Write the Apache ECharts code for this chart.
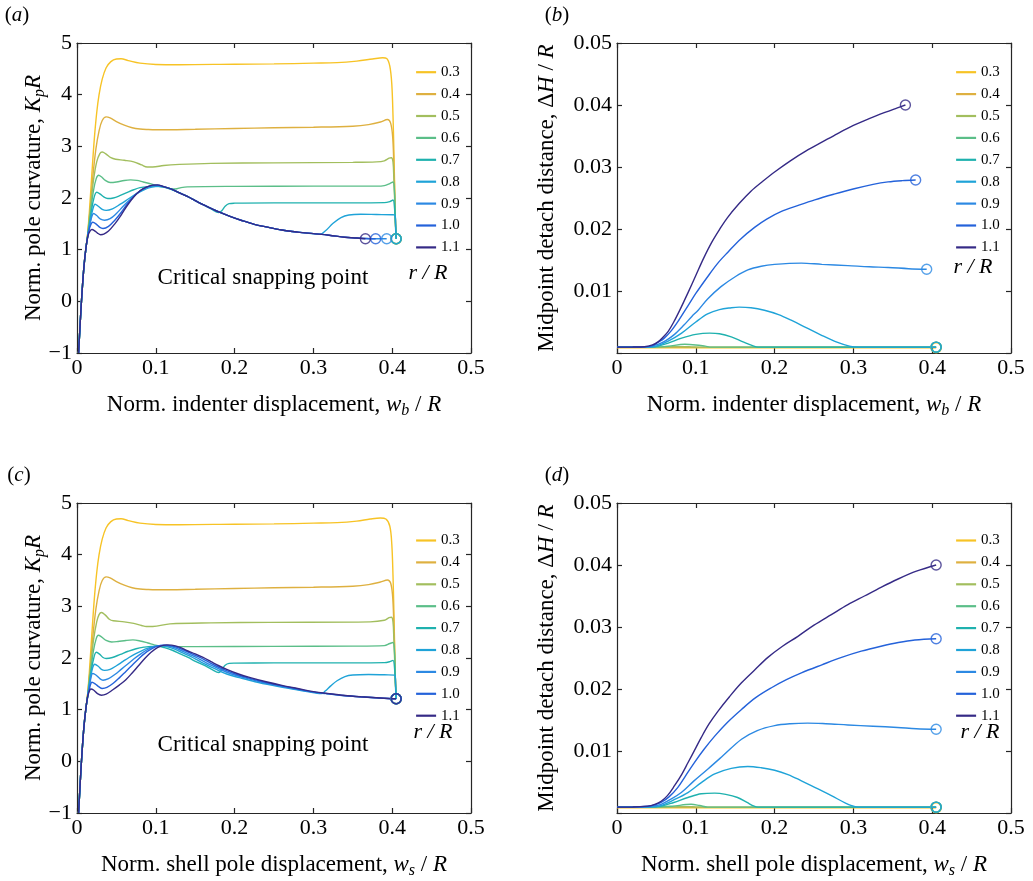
<!DOCTYPE html>
<html><head><meta charset="utf-8">
<script src="https://cdn.jsdelivr.net/npm/echarts@6/dist/echarts.min.js"></script>
<style>html,body{margin:0;padding:0;background:#fff}#c{width:1033px;height:881px}</style>
</head><body><div id="c"></div>
<script>
// ---------- categories / tick labels ----------
const radii = ['0.3','0.4','0.5','0.6','0.7','0.8','0.9','1.0','1.1'];
const xTicks = [0, 0.1, 0.2, 0.3, 0.4, 0.5];
const kTicks = [-1, 0, 1, 2, 3, 4, 5];
const hTicks = [0, 0.01, 0.02, 0.03, 0.04, 0.05];

// ---------- panel (a): K_p R vs w_b / R ----------
const kA03 = [[0.002,-1],[0.0045,-0.3],[0.0065,0.2],[0.009,0.7],[0.0115,1.05],[0.0135,1.3],[0.016,1.8],[0.019,2.5],[0.022,3.15],[0.025,3.65],[0.028,4.0],[0.032,4.3],[0.037,4.52],[0.043,4.64],[0.05,4.69],[0.056,4.695],[0.065,4.66],[0.08,4.61],[0.1,4.585],[0.13,4.58],[0.2,4.59],[0.25,4.595],[0.3,4.61],[0.33,4.62],[0.355,4.65],[0.375,4.69],[0.388,4.715],[0.393,4.7],[0.397,4.55],[0.3995,4.2],[0.401,3.6],[0.402,3.0],[0.403,2.3],[0.404,1.6],[0.405,1.21]];
const kA04 = [[0.002,-1],[0.0045,-0.3],[0.0065,0.2],[0.009,0.7],[0.0115,1.05],[0.0135,1.3],[0.017,1.85],[0.02,2.4],[0.024,2.95],[0.028,3.3],[0.032,3.5],[0.037,3.57],[0.042,3.55],[0.05,3.48],[0.06,3.41],[0.07,3.36],[0.08,3.335],[0.09,3.325],[0.1,3.32],[0.15,3.33],[0.2,3.345],[0.25,3.36],[0.3,3.37],[0.35,3.39],[0.37,3.42],[0.385,3.47],[0.394,3.52],[0.398,3.45],[0.4005,3.2],[0.402,2.7],[0.403,2.2],[0.404,1.6],[0.405,1.21]];
const kA05 = [[0.002,-1],[0.0045,-0.3],[0.0065,0.2],[0.009,0.7],[0.0115,1.05],[0.0135,1.28],[0.017,1.8],[0.021,2.35],[0.025,2.7],[0.029,2.86],[0.032,2.89],[0.037,2.85],[0.043,2.78],[0.049,2.75],[0.06,2.73],[0.072,2.7],[0.082,2.64],[0.089,2.6],[0.096,2.6],[0.11,2.63],[0.13,2.65],[0.17,2.67],[0.25,2.68],[0.35,2.69],[0.38,2.7],[0.39,2.72],[0.396,2.77],[0.399,2.78],[0.401,2.7],[0.402,2.4],[0.403,2.0],[0.404,1.6],[0.405,1.21]];
const kA06 = [[0.002,-1],[0.0045,-0.3],[0.0065,0.2],[0.009,0.7],[0.0115,1.05],[0.0135,1.27],[0.017,1.7],[0.021,2.15],[0.0245,2.38],[0.0275,2.44],[0.031,2.41],[0.036,2.34],[0.042,2.3],[0.05,2.31],[0.06,2.34],[0.068,2.35],[0.076,2.34],[0.084,2.31],[0.092,2.28],[0.1,2.25],[0.108,2.22],[0.116,2.19],[0.122,2.175],[0.127,2.18],[0.132,2.2],[0.14,2.215],[0.2,2.225],[0.3,2.23],[0.38,2.23],[0.39,2.24],[0.397,2.28],[0.401,2.31],[0.403,2.1],[0.404,1.6],[0.405,1.21]];
const kA07 = [[0.002,-1],[0.0045,-0.3],[0.0065,0.2],[0.009,0.7],[0.0115,1.05],[0.0135,1.26],[0.017,1.62],[0.021,1.97],[0.025,2.11],[0.029,2.08],[0.034,2.02],[0.039,1.99],[0.046,2.0],[0.055,2.05],[0.064,2.11],[0.072,2.16],[0.08,2.2],[0.09,2.22],[0.1,2.225],[0.11,2.21],[0.12,2.165],[0.13,2.1],[0.14,2.03],[0.15,1.95],[0.16,1.87],[0.17,1.79],[0.18,1.72],[0.184,1.76],[0.188,1.84],[0.193,1.89],[0.2,1.9],[0.25,1.905],[0.3,1.905],[0.35,1.905],[0.39,1.91],[0.397,1.93],[0.401,1.96],[0.403,1.8],[0.404,1.5],[0.405,1.21]];
const kA08 = [[0.002,-1],[0.0045,-0.3],[0.0065,0.2],[0.009,0.7],[0.0115,1.05],[0.0135,1.25],[0.017,1.55],[0.02,1.78],[0.023,1.88],[0.027,1.84],[0.032,1.78],[0.037,1.76],[0.045,1.79],[0.055,1.88],[0.065,1.98],[0.075,2.08],[0.085,2.16],[0.095,2.21],[0.103,2.225],[0.11,2.215],[0.12,2.17],[0.13,2.1],[0.14,2.03],[0.15,1.95],[0.16,1.87],[0.17,1.8],[0.18,1.73],[0.195,1.64],[0.21,1.56],[0.225,1.49],[0.24,1.44],[0.26,1.38],[0.28,1.34],[0.3,1.31],[0.3085,1.3],[0.315,1.36],[0.325,1.51],[0.335,1.62],[0.345,1.67],[0.36,1.685],[0.38,1.68],[0.4,1.675],[0.4035,1.67],[0.4045,1.45],[0.405,1.21]];
const kA09 = [[0.002,-1],[0.0045,-0.3],[0.0065,0.2],[0.009,0.7],[0.0115,1.05],[0.0135,1.25],[0.0165,1.5],[0.019,1.65],[0.021,1.7],[0.025,1.66],[0.03,1.59],[0.035,1.57],[0.042,1.6],[0.05,1.7],[0.058,1.83],[0.066,1.95],[0.074,2.06],[0.082,2.15],[0.09,2.21],[0.098,2.24],[0.104,2.24],[0.11,2.22],[0.12,2.17],[0.13,2.1],[0.14,2.03],[0.15,1.95],[0.16,1.87],[0.17,1.8],[0.18,1.73],[0.195,1.64],[0.21,1.56],[0.225,1.49],[0.24,1.44],[0.26,1.38],[0.28,1.34],[0.3,1.31],[0.32,1.28],[0.34,1.24],[0.355,1.225],[0.366,1.215],[0.38,1.21],[0.393,1.21]];
const kA10 = [[0.002,-1],[0.0045,-0.3],[0.0065,0.2],[0.009,0.7],[0.0115,1.05],[0.0135,1.25],[0.016,1.42],[0.02,1.53],[0.024,1.5],[0.029,1.43],[0.033,1.41],[0.04,1.45],[0.048,1.57],[0.056,1.72],[0.064,1.89],[0.072,2.03],[0.08,2.14],[0.088,2.21],[0.096,2.245],[0.102,2.25],[0.11,2.22],[0.12,2.17],[0.13,2.1],[0.14,2.03],[0.15,1.95],[0.16,1.87],[0.17,1.8],[0.18,1.73],[0.195,1.64],[0.21,1.56],[0.225,1.49],[0.24,1.44],[0.26,1.38],[0.28,1.34],[0.3,1.31],[0.32,1.28],[0.34,1.24],[0.355,1.225],[0.366,1.215],[0.379,1.21]];
const kA11 = [[0.002,-1],[0.0045,-0.3],[0.0065,0.2],[0.009,0.7],[0.0115,1.05],[0.014,1.27],[0.0165,1.36],[0.019,1.39],[0.022,1.37],[0.026,1.32],[0.03,1.29],[0.034,1.3],[0.04,1.36],[0.048,1.5],[0.056,1.67],[0.064,1.86],[0.072,2.02],[0.08,2.14],[0.088,2.21],[0.096,2.25],[0.102,2.255],[0.11,2.22],[0.12,2.17],[0.13,2.1],[0.14,2.03],[0.15,1.95],[0.16,1.87],[0.17,1.8],[0.18,1.73],[0.195,1.64],[0.21,1.56],[0.225,1.49],[0.24,1.44],[0.26,1.38],[0.28,1.34],[0.3,1.31],[0.32,1.28],[0.34,1.24],[0.355,1.225],[0.366,1.21]];

// ---------- panel (b): dH / R vs w_b / R ----------
const hB03 = [[0,0.00085],[0.1,0.00085],[0.2,0.00085],[0.3,0.00085],[0.405,0.00085]];
const hB04 = [[0,0.0009],[0.1,0.0009],[0.2,0.0009],[0.3,0.0009],[0.405,0.0009]];
const hB05 = [[0,0.00095],[0.05,0.00095],[0.065,0.00098],[0.08,0.00103],[0.095,0.00099],[0.105,0.00095],[0.2,0.00095],[0.405,0.00095]];
const hB06 = [[0,0.00095],[0.05,0.00096],[0.065,0.0011],[0.086,0.0014],[0.1,0.0013],[0.112,0.0011],[0.12,0.00095],[0.2,0.00095],[0.405,0.00095]];
const hB07 = [[0,0.00095],[0.04,0.00096],[0.052,0.0011],[0.065,0.0016],[0.082,0.0024],[0.1,0.003],[0.1175,0.0032],[0.13,0.0031],[0.145,0.0026],[0.16,0.0018],[0.172,0.0012],[0.179,0.00095],[0.25,0.00095],[0.405,0.00095]];
const hB08 = [[0,0.00095],[0.03,0.00096],[0.045,0.001],[0.052,0.0012],[0.065,0.0019],[0.082,0.0032],[0.1,0.005],[0.115,0.0063],[0.13,0.007],[0.145,0.0073],[0.155,0.0074],[0.17,0.0073],[0.187,0.0069],[0.205,0.0062],[0.221,0.0053],[0.24,0.0041],[0.259,0.0029],[0.28,0.0017],[0.295,0.0011],[0.306,0.00095],[0.35,0.00095],[0.405,0.00095]];
const hB09 = [[0,0.00095],[0.02,0.00096],[0.04,0.001],[0.052,0.0014],[0.062,0.002],[0.073,0.003],[0.085,0.0045],[0.095,0.0059],[0.103,0.0069],[0.115,0.0087],[0.132,0.0107],[0.15,0.0123],[0.166,0.0134],[0.183,0.014],[0.2,0.0143],[0.234,0.0145],[0.26,0.0143],[0.293,0.0141],[0.32,0.0139],[0.344,0.0138],[0.37,0.0136],[0.393,0.0135]];
const hB10 = [[0,0.00095],[0.02,0.00096],[0.035,0.001],[0.045,0.0012],[0.052,0.0017],[0.06,0.0024],[0.069,0.0036],[0.078,0.0052],[0.09,0.0076],[0.1,0.0096],[0.115,0.0123],[0.128,0.0145],[0.141,0.0163],[0.157,0.0184],[0.175,0.0203],[0.19,0.0216],[0.208,0.0228],[0.23,0.0238],[0.251,0.0247],[0.275,0.0256],[0.301,0.0265],[0.325,0.0272],[0.344,0.0276],[0.362,0.0278],[0.379,0.0279]];
const hB11 = [[0,0.00095],[0.02,0.00096],[0.035,0.001],[0.045,0.0013],[0.052,0.0018],[0.058,0.0025],[0.065,0.0035],[0.072,0.005],[0.08,0.007],[0.09,0.0097],[0.1,0.0125],[0.11,0.0153],[0.12,0.0178],[0.13,0.0199],[0.14,0.0218],[0.155,0.0241],[0.17,0.0261],[0.185,0.0277],[0.2,0.0292],[0.22,0.031],[0.24,0.0326],[0.26,0.034],[0.28,0.0354],[0.3,0.0367],[0.32,0.0378],[0.34,0.0388],[0.355,0.0395],[0.366,0.04]];

// ---------- panel (c): K_p R vs w_s / R ----------
const kC03 = [[0.002,-1],[0.0045,-0.3],[0.0065,0.2],[0.009,0.7],[0.0115,1.05],[0.0135,1.3],[0.016,1.8],[0.019,2.5],[0.022,3.15],[0.025,3.65],[0.028,4.0],[0.032,4.3],[0.037,4.52],[0.043,4.64],[0.05,4.69],[0.056,4.695],[0.065,4.66],[0.08,4.61],[0.1,4.585],[0.13,4.58],[0.2,4.59],[0.25,4.595],[0.3,4.61],[0.33,4.62],[0.355,4.65],[0.372,4.69],[0.385,4.71],[0.392,4.69],[0.397,4.55],[0.3995,4.2],[0.401,3.6],[0.402,3.0],[0.403,2.3],[0.404,1.6],[0.405,1.21]];
const kC04 = [[0.002,-1],[0.0045,-0.3],[0.0065,0.2],[0.009,0.7],[0.0115,1.05],[0.0135,1.3],[0.017,1.85],[0.02,2.4],[0.024,2.95],[0.028,3.3],[0.032,3.5],[0.037,3.57],[0.042,3.55],[0.05,3.48],[0.06,3.41],[0.07,3.36],[0.08,3.335],[0.09,3.325],[0.1,3.32],[0.15,3.33],[0.2,3.345],[0.25,3.36],[0.3,3.37],[0.35,3.39],[0.37,3.42],[0.385,3.47],[0.394,3.51],[0.398,3.45],[0.4005,3.2],[0.402,2.7],[0.403,2.2],[0.404,1.6],[0.405,1.21]];
const kC05 = [[0.002,-1],[0.0045,-0.3],[0.0065,0.2],[0.009,0.7],[0.0115,1.05],[0.0135,1.28],[0.017,1.8],[0.021,2.35],[0.025,2.7],[0.028,2.84],[0.031,2.88],[0.036,2.83],[0.041,2.75],[0.046,2.72],[0.06,2.7],[0.072,2.67],[0.082,2.63],[0.088,2.61],[0.096,2.61],[0.118,2.66],[0.17,2.68],[0.245,2.69],[0.372,2.7],[0.39,2.73],[0.396,2.78],[0.399,2.79],[0.401,2.7],[0.402,2.4],[0.403,2.0],[0.404,1.6],[0.405,1.21]];
const kC06 = [[0.002,-1],[0.0045,-0.3],[0.0065,0.2],[0.009,0.7],[0.0115,1.05],[0.0135,1.27],[0.017,1.7],[0.021,2.15],[0.0245,2.38],[0.027,2.44],[0.031,2.41],[0.037,2.34],[0.044,2.31],[0.052,2.32],[0.062,2.34],[0.071,2.35],[0.08,2.33],[0.09,2.29],[0.098,2.255],[0.105,2.23],[0.115,2.22],[0.15,2.22],[0.25,2.225],[0.35,2.23],[0.39,2.24],[0.397,2.28],[0.401,2.3],[0.403,2.1],[0.404,1.6],[0.405,1.21]];
const kC07 = [[0.002,-1],[0.0045,-0.3],[0.0065,0.2],[0.009,0.7],[0.0115,1.05],[0.0135,1.25],[0.017,1.65],[0.021,1.98],[0.0245,2.11],[0.029,2.07],[0.033,2.01],[0.037,1.99],[0.045,2.01],[0.055,2.07],[0.065,2.13],[0.075,2.18],[0.085,2.21],[0.095,2.225],[0.103,2.225],[0.111,2.2],[0.121,2.15],[0.131,2.08],[0.141,2.01],[0.151,1.93],[0.161,1.86],[0.171,1.78],[0.18,1.72],[0.184,1.78],[0.188,1.86],[0.193,1.895],[0.2,1.9],[0.25,1.905],[0.3,1.905],[0.35,1.905],[0.39,1.91],[0.397,1.93],[0.401,1.955],[0.403,1.8],[0.404,1.5],[0.405,1.21]];
const kC08 = [[0.002,-1],[0.0045,-0.3],[0.0065,0.2],[0.009,0.7],[0.0115,1.05],[0.0135,1.25],[0.017,1.6],[0.02,1.82],[0.0225,1.88],[0.027,1.84],[0.031,1.78],[0.035,1.76],[0.042,1.78],[0.05,1.85],[0.058,1.93],[0.066,2.01],[0.074,2.08],[0.082,2.14],[0.09,2.19],[0.098,2.225],[0.106,2.235],[0.114,2.22],[0.124,2.17],[0.134,2.1],[0.144,2.03],[0.154,1.95],[0.164,1.87],[0.174,1.8],[0.19,1.69],[0.206,1.62],[0.226,1.54],[0.248,1.47],[0.27,1.41],[0.292,1.35],[0.31,1.31],[0.315,1.36],[0.322,1.46],[0.33,1.56],[0.34,1.64],[0.35,1.67],[0.37,1.68],[0.39,1.675],[0.4035,1.67],[0.4045,1.45],[0.405,1.21]];
const kC09 = [[0.002,-1],[0.0045,-0.3],[0.0065,0.2],[0.009,0.7],[0.0115,1.05],[0.0135,1.25],[0.0165,1.52],[0.02,1.7],[0.024,1.67],[0.029,1.6],[0.033,1.57],[0.04,1.6],[0.048,1.68],[0.056,1.78],[0.064,1.88],[0.072,1.98],[0.08,2.07],[0.088,2.15],[0.096,2.21],[0.104,2.24],[0.11,2.245],[0.12,2.22],[0.13,2.16],[0.14,2.09],[0.15,2.02],[0.16,1.94],[0.17,1.86],[0.18,1.79],[0.196,1.69],[0.212,1.62],[0.232,1.54],[0.253,1.47],[0.274,1.41],[0.295,1.35],[0.316,1.31],[0.337,1.275],[0.358,1.25],[0.378,1.23],[0.395,1.215],[0.405,1.21]];
const kC10 = [[0.002,-1],[0.0045,-0.3],[0.0065,0.2],[0.009,0.7],[0.0115,1.05],[0.0135,1.25],[0.016,1.42],[0.019,1.53],[0.023,1.5],[0.028,1.44],[0.032,1.41],[0.038,1.43],[0.046,1.51],[0.054,1.62],[0.062,1.74],[0.07,1.86],[0.078,1.98],[0.086,2.09],[0.094,2.17],[0.102,2.23],[0.11,2.25],[0.116,2.245],[0.126,2.21],[0.136,2.15],[0.146,2.08],[0.156,2.01],[0.166,1.93],[0.176,1.85],[0.186,1.78],[0.201,1.69],[0.216,1.62],[0.236,1.54],[0.257,1.47],[0.277,1.41],[0.297,1.35],[0.318,1.31],[0.338,1.275],[0.359,1.25],[0.379,1.23],[0.395,1.215],[0.405,1.21]];
const kC11 = [[0.002,-1],[0.0045,-0.3],[0.0065,0.2],[0.009,0.7],[0.0115,1.05],[0.0135,1.25],[0.0155,1.35],[0.0175,1.4],[0.021,1.38],[0.026,1.31],[0.031,1.28],[0.037,1.3],[0.045,1.38],[0.054,1.48],[0.062,1.58],[0.07,1.71],[0.078,1.85],[0.086,1.99],[0.094,2.11],[0.102,2.2],[0.108,2.24],[0.114,2.255],[0.12,2.25],[0.13,2.21],[0.14,2.14],[0.15,2.08],[0.16,2.01],[0.17,1.93],[0.18,1.85],[0.19,1.78],[0.205,1.69],[0.22,1.62],[0.24,1.54],[0.26,1.47],[0.28,1.41],[0.3,1.35],[0.32,1.31],[0.34,1.275],[0.36,1.25],[0.38,1.23],[0.395,1.215],[0.405,1.21]];

// ---------- panel (d): dH / R vs w_s / R ----------
const hD03 = [[0,0.00085],[0.1,0.00085],[0.2,0.00085],[0.3,0.00085],[0.405,0.00085]];
const hD04 = [[0,0.0009],[0.1,0.0009],[0.2,0.0009],[0.3,0.0009],[0.405,0.0009]];
const hD05 = [[0,0.00095],[0.05,0.00095],[0.07,0.00098],[0.088,0.00103],[0.1,0.00099],[0.11,0.00095],[0.2,0.00095],[0.405,0.00095]];
const hD06 = [[0,0.00095],[0.05,0.00096],[0.07,0.0011],[0.094,0.0014],[0.105,0.0012],[0.115,0.00095],[0.2,0.00095],[0.405,0.00095]];
const hD07 = [[0,0.00095],[0.04,0.00096],[0.056,0.0011],[0.072,0.0017],[0.09,0.0025],[0.107,0.0031],[0.124,0.0032],[0.138,0.003],[0.153,0.0025],[0.165,0.0017],[0.174,0.0011],[0.179,0.00095],[0.25,0.00095],[0.405,0.00095]];
const hD08 = [[0,0.00095],[0.03,0.00096],[0.045,0.001],[0.056,0.0012],[0.072,0.0021],[0.09,0.0033],[0.107,0.0049],[0.124,0.0063],[0.145,0.0072],[0.166,0.0075],[0.183,0.0073],[0.2,0.0069],[0.217,0.0062],[0.234,0.0052],[0.253,0.004],[0.272,0.0028],[0.29,0.0016],[0.3,0.0011],[0.306,0.00095],[0.35,0.00095],[0.405,0.00095]];
const hD09 = [[0,0.00095],[0.03,0.00096],[0.045,0.0011],[0.056,0.0014],[0.068,0.0022],[0.0816,0.0033],[0.097,0.0051],[0.1154,0.0071],[0.135,0.0093],[0.158,0.0119],[0.178,0.0133],[0.2,0.0141],[0.22,0.0144],[0.242,0.0145],[0.265,0.0144],[0.293,0.0142],[0.325,0.014],[0.356,0.0138],[0.38,0.0136],[0.405,0.0135]];
const hD10 = [[0,0.00095],[0.02,0.00096],[0.039,0.0011],[0.048,0.0013],[0.056,0.0017],[0.066,0.0026],[0.077,0.0041],[0.087,0.006],[0.098,0.0081],[0.11,0.0102],[0.124,0.0124],[0.14,0.0146],[0.158,0.0167],[0.176,0.0186],[0.196,0.0202],[0.215,0.0215],[0.234,0.0226],[0.26,0.0239],[0.285,0.0251],[0.31,0.0261],[0.335,0.0269],[0.357,0.0275],[0.378,0.0279],[0.405,0.0281]];
const hD11 = [[0,0.00095],[0.02,0.00096],[0.039,0.0011],[0.048,0.0014],[0.056,0.0019],[0.064,0.0028],[0.073,0.0044],[0.082,0.0062],[0.09,0.0081],[0.1,0.0105],[0.107,0.0122],[0.117,0.0144],[0.128,0.0164],[0.143,0.0188],[0.158,0.021],[0.175,0.0231],[0.1915,0.0251],[0.21,0.0269],[0.2296,0.0285],[0.25,0.0303],[0.272,0.032],[0.293,0.0336],[0.314,0.035],[0.335,0.0364],[0.356,0.0377],[0.38,0.039],[0.405,0.04]];

const panels = [
  [kA03,kA04,kA05,kA06,kA07,kA08,kA09,kA10,kA11],
  [hB03,hB04,hB05,hB06,hB07,hB08,hB09,hB10,hB11],
  [kC03,kC04,kC05,kC06,kC07,kC08,kC09,kC10,kC11],
  [hD03,hD04,hD05,hD06,hD07,hD08,hD09,hD10,hD11]
];

// ---------- styling ----------
const palette = ['#F7C325','#DEB040','#A2BE5E','#5BBE88','#1FB1AE','#1FA3D8','#2C89E3','#2462DA','#352A86'];
const FONT = 'Liberation Serif';
const AX = '#262626';
const grids = [
  {left:77, top:43, width:394, height:310},
  {left:617, top:43, width:394, height:310},
  {left:77, top:503, width:394, height:310},
  {left:617, top:503, width:394, height:310}
];
const richName = {
  i: {fontFamily:FONT, fontSize:23, fontStyle:'italic', lineHeight:28, color:'#000'},
  sub: {fontFamily:FONT, fontSize:16, fontStyle:'italic', lineHeight:16, verticalAlign:'bottom', color:'#000'}
};
const xNames = ['Norm. indenter displacement, {i|w}{sub|b} / {i|R}','Norm. indenter displacement, {i|w}{sub|b} / {i|R}',
                'Norm. shell pole displacement, {i|w}{sub|s} / {i|R}','Norm. shell pole displacement, {i|w}{sub|s} / {i|R}'];
const yNames = ['Norm. pole curvature, {i|K}{sub|p}{i|R}','Midpoint detach distance, \u0394{i|H} / {i|R}',
                'Norm. pole curvature, {i|K}{sub|p}{i|R}','Midpoint detach distance, \u0394{i|H} / {i|R}'];

const xAxis = [], yAxis = [], series = [], legend = [];
grids.forEach((g, gi) => {
  const isK = (gi % 2 === 0);
  const common = {
    type:'value', gridIndex:gi, splitLine:{show:false},
    axisLine:{show:true, onZero:false, lineStyle:{color:AX, width:1.2}},
    axisTick:{show:true, inside:true, length:5, lineStyle:{color:AX, width:1.2}}
  };
  xAxis.push(Object.assign({}, common, {
    position:'bottom', min:xTicks[0], max:xTicks[xTicks.length-1], interval:0.1,
    axisLabel:{fontFamily:FONT, fontSize:22, color:'#000', margin:4,
      formatter: v => v === 0 ? '0' : v.toFixed(1)},
    name: xNames[gi], nameLocation:'middle', nameGap:38, nameMoveOverlap:false,
    nameTextStyle:{fontFamily:FONT, fontSize:23, color:'#000', lineHeight:28, rich:richName}
  }));
  xAxis.push(Object.assign({}, common, {
    position:'top', min:xTicks[0], max:xTicks[xTicks.length-1], interval:0.1, axisLabel:{show:false}
  }));
  const ymin = isK ? kTicks[0] : hTicks[0];
  const ymax = isK ? kTicks[kTicks.length-1] : hTicks[hTicks.length-1];
  const yint = isK ? 1 : 0.01;
  yAxis.push(Object.assign({}, common, {
    position:'left', min:ymin, max:ymax, interval:yint,
    axisLabel:{fontFamily:FONT, fontSize:22, color:'#000', margin:5,
      formatter: isK ? (v => v < 0 ? '\u2212' + Math.abs(v) : String(v)) : (v => v === 0 ? '' : v.toFixed(2))},
    name: yNames[gi], nameLocation:'middle', nameGap: isK ? 29 : 56, nameMoveOverlap:false,
    nameTextStyle:{fontFamily:FONT, fontSize:23, color:'#000', lineHeight:28, rich:richName}
  }));
  yAxis.push(Object.assign({}, common, {
    position:'right', min:ymin, max:ymax, interval:yint, axisLabel:{show:false}
  }));
  panels[gi].forEach((d, i) => {
    series.push({
      type:'line', name:radii[i], xAxisIndex:2*gi, yAxisIndex:2*gi, data:d,
      symbol:'none', smooth:0.35, lineStyle:{color:palette[i], width:1.4},
      itemStyle:{color:palette[i]}, animation:false, silent:true
    });
  });
  panels[gi].forEach((d, i) => {
    series.push({
      type:'scatter', xAxisIndex:2*gi, yAxisIndex:2*gi, data:[d[d.length-1]],
      symbol:'circle', symbolSize:10, z:3, animation:false, silent:true,
      itemStyle:{color:'rgba(0,0,0,0)', borderColor:palette[i], borderWidth:1.4}
    });
  });
  legend.push({
    data: radii, orient:'vertical', left: gi % 2 === 0 ? 415 : 955, top: gi < 2 ? 64.7 : 533,
    padding:0, itemWidth:20, itemHeight:14, itemGap:6.9, selectedMode:false,
    itemStyle:{opacity:0, borderWidth:0}, lineStyle:{width:2.2, opacity:1},
    textStyle:{fontFamily:FONT, fontSize:15, color:'#000', lineHeight:14}
  });
});

const txt = (x, y, text, size, extra) => ({
  type:'text', x:x, y:y, silent:true,
  style: Object.assign({text:text, fontFamily:FONT, fontSize:size, fill:'#000',
    align:'center', verticalAlign:'middle',
    rich:{i:{fontFamily:FONT, fontSize:size, fontStyle:'italic', fill:'#000'}}}, extra || {})
});
const graphic = [
  txt(17, 15, '({i|a})', 21), txt(557, 15, '({i|b})', 21),
  txt(19, 475, '({i|c})', 21), txt(557, 475, '({i|d})', 21),
  txt(263, 278, 'Critical snapping point', 23), txt(263, 745, 'Critical snapping point', 23),
  txt(428, 273, 'r / R', 22, {fontStyle:'italic'}), txt(973, 267, 'r / R', 22, {fontStyle:'italic'}),
  txt(433, 732, 'r / R', 22, {fontStyle:'italic'}), txt(980, 732, 'r / R', 22, {fontStyle:'italic'})
];

const chart = echarts.init(document.getElementById('c'), null, {renderer:'canvas'});
chart.setOption({
  animation:false, backgroundColor:'#fff',
  grid: grids.map(g => Object.assign({containLabel:false, outerBoundsMode:'none'}, g)),
  xAxis, yAxis, series, legend, graphic
});
</script></body></html>
